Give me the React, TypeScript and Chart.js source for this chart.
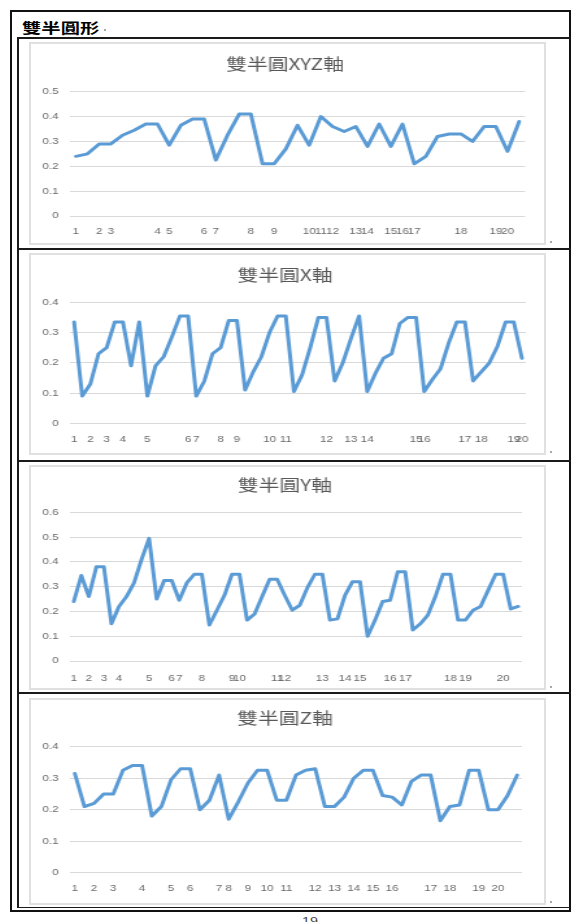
import React, { useEffect, useRef } from 'react';
import { Chart, registerables } from 'chart.js';

Chart.register(...registerables);

// ---- data -------------------------------------------------------------

const xyzLabels = [
  '1', '', '2', '3', '', '', '', '4', '5', '',
  '', '6', '7', '', '', '8', '', '9', '', '',
  '10', '11', '12', '', '13', '14', '', '15', '16', '17',
  '', '', '', '18', '', '', '19', '20', '',
];
const xyzValues = [
  0.24, 0.25, 0.29, 0.29, 0.325, 0.345, 0.37, 0.37, 0.285, 0.365,
  0.39, 0.39, 0.225, 0.325, 0.41, 0.41, 0.21, 0.21, 0.27, 0.365,
  0.285, 0.4, 0.36, 0.34, 0.36, 0.28, 0.37, 0.28, 0.37, 0.21,
  0.24, 0.32, 0.33, 0.33, 0.3, 0.36, 0.36, 0.26, 0.38,
];

const xLabels = [
  '1', '', '2', '', '3', '', '4', '', '', '5',
  '', '', '', '', '6', '7', '', '', '8', '',
  '9', '', '', '', '10', '', '11', '', '', '',
  '', '12', '', '', '13', '', '14', '', '', '',
  '', '', '15', '16', '', '', '', '', '17', '',
  '18', '', '', '', '19', '20',
];
const xValues = [
  0.335, 0.09, 0.13, 0.23, 0.25, 0.335, 0.335, 0.19, 0.335, 0.09,
  0.19, 0.22, 0.285, 0.355, 0.355, 0.09, 0.14, 0.23, 0.25, 0.34,
  0.34, 0.11, 0.17, 0.22, 0.3, 0.355, 0.355, 0.105, 0.16, 0.25,
  0.35, 0.35, 0.14, 0.2, 0.28, 0.355, 0.105, 0.165, 0.215, 0.23,
  0.33, 0.35, 0.35, 0.105, 0.145, 0.18, 0.265, 0.335, 0.335, 0.14,
  0.17, 0.2, 0.255, 0.335, 0.335, 0.215,
];

const yLabels = [
  '1', '', '2', '', '3', '', '4', '', '', '',
  '5', '', '', '6', '7', '', '', '8', '', '',
  '', '9', '10', '', '', '', '', '11', '12', '',
  '', '', '', '13', '', '', '14', '', '15', '',
  '', '', '16', '', '17', '', '', '', '', '',
  '18', '', '19', '', '', '', '', '20', '', '',
];
const yValues = [
  0.24, 0.345, 0.26, 0.38, 0.38, 0.15, 0.22, 0.26, 0.315, 0.41,
  0.495, 0.25, 0.325, 0.325, 0.245, 0.315, 0.35, 0.35, 0.145, 0.205,
  0.265, 0.35, 0.35, 0.165, 0.19, 0.26, 0.33, 0.33, 0.265, 0.205,
  0.225, 0.295, 0.35, 0.35, 0.165, 0.17, 0.265, 0.32, 0.32, 0.1,
  0.165, 0.24, 0.245, 0.36, 0.36, 0.125, 0.15, 0.185, 0.26, 0.35,
  0.35, 0.165, 0.165, 0.205, 0.22, 0.285, 0.35, 0.35, 0.21, 0.22,
];

const zLabels = [
  '1', '', '2', '', '3', '', '', '4', '', '',
  '5', '', '6', '', '', '7', '8', '', '9', '',
  '10', '', '11', '', '', '12', '', '13', '', '14',
  '', '15', '', '16', '', '', '', '17', '', '18',
  '', '', '19', '', '20', '', '',
];
const zValues = [
  0.315, 0.21, 0.22, 0.25, 0.25, 0.325, 0.34, 0.34, 0.18, 0.21,
  0.295, 0.33, 0.33, 0.2, 0.23, 0.31, 0.17, 0.225, 0.285, 0.325,
  0.325, 0.23, 0.23, 0.31, 0.325, 0.33, 0.21, 0.21, 0.24, 0.3,
  0.325, 0.325, 0.245, 0.24, 0.215, 0.29, 0.31, 0.31, 0.165, 0.21,
  0.215, 0.325, 0.325, 0.2, 0.2, 0.245, 0.31,
];

// ---- look -------------------------------------------------------------

const LINE_COLOR = '#5b9bd5';
const GRID_COLOR = '#d9d9d9';
const TEXT_COLOR = '#595959';
const TICK_COLOR = '#6a6a6a';
const TITLE_FONT = '"Noto Sans CJK TC", "Noto Sans", sans-serif';
const TICK_FONT = '"Liberation Sans", Arial, sans-serif';
const TITLE_SIZE = 16;
const TICK_SIZE = 9;

// The document view is wider than tall, so each canvas is drawn narrower
// and widened by CSS.
const BOX_LEFT = 29;
const BOX_WIDTH = 517;
const CANVAS_LEFT = BOX_LEFT + 2;
const CANVAS_W = BOX_WIDTH - 4;
const INNER_W = Math.round(CANVAS_W / 1.3);
const SX = CANVAS_W / INNER_W;
const PLOT_LEFT = 70;
const TITLE_CENTER = 285;
const YLABEL_RIGHT = 58.5;

type Panel = {
  title: string;
  labels: string[];
  values: number[];
  max: number;
  top: number;
  bottom: number;
  plotTop: number;
  plotBottom: number;
  plotRight: number;
  titleY: number;
  tickY: number;
};

const panels: Panel[] = [
  { title: '雙半圓XYZ軸', labels: xyzLabels, values: xyzValues, max: 0.5,
    top: 42, bottom: 245, plotTop: 91.7, plotBottom: 216, plotRight: 525, titleY: 64, tickY: 231.7 },
  { title: '雙半圓X軸', labels: xLabels, values: xValues, max: 0.4,
    top: 253, bottom: 455, plotTop: 302.3, plotBottom: 423.3, plotRight: 526, titleY: 275, tickY: 440 },
  { title: '雙半圓Y軸', labels: yLabels, values: yValues, max: 0.6,
    top: 465, bottom: 690, plotTop: 512.3, plotBottom: 661, plotRight: 522, titleY: 485, tickY: 678.3 },
  { title: '雙半圓Z軸', labels: zLabels, values: zValues, max: 0.4,
    top: 698, bottom: 905, plotTop: 746.7, plotBottom: 872.7, plotRight: 522, titleY: 718.3, tickY: 888.3 },
];

function LinePanel({ p }: { p: Panel }) {
  const ref = useRef<HTMLCanvasElement>(null);
  const h = p.bottom - p.top - 4;

  useEffect(() => {
    const canvas = ref.current;
    if (!canvas) return;
    const cTop = p.top + 2;
    const toX = (px: number) => (px - CANVAS_LEFT) / SX;
    const plotL = toX(PLOT_LEFT);
    const plotR = toX(p.plotRight);
    const padRight = Math.max(0, INNER_W - 2 * toX(TITLE_CENTER));
    const rightAxisW = Math.max(0, INNER_W - plotR - padRight);

    const titleLH = TITLE_SIZE * 1.2;
    const tickLH = TICK_SIZE * 1.2;
    const tc = p.titleY - cTop;
    const pt = p.plotTop - cTop;
    const pb = p.plotBottom - cTop;

    const chart = new Chart(canvas, {
      type: 'line',
      data: {
        labels: p.labels,
        datasets: [
          {
            data: p.values,
            borderColor: LINE_COLOR,
            borderWidth: 3,
            pointRadius: 0,
            pointHoverRadius: 0,
            tension: 0,
            fill: false,
            borderJoinStyle: 'round',
            borderCapStyle: 'round',
          },
        ],
      },
      options: {
        animation: false,
        responsive: false,
        devicePixelRatio: 1,
        events: [],
        layout: { padding: { left: 0, right: padRight, top: 0, bottom: 0 } },
        plugins: {
          legend: { display: false },
          tooltip: { enabled: false },
          title: {
            display: true,
            text: p.title,
            color: TEXT_COLOR,
            font: { family: TITLE_FONT, size: TITLE_SIZE, weight: 'normal', lineHeight: 1.2 },
            padding: { top: tc - titleLH / 2, bottom: pt - tc - titleLH / 2 },
          },
        },
        scales: {
          x: {
            type: 'category',
            offset: true,
            grid: { display: false, drawTicks: false },
            border: { display: false },
            ticks: {
              autoSkip: false,
              maxRotation: 0,
              minRotation: 0,
              padding: p.tickY - p.plotBottom - tickLH / 2,
              color: TICK_COLOR,
              font: { family: TICK_FONT, size: TICK_SIZE, lineHeight: 1.2 },
            },
            afterFit: (s: any) => { s.height = h - pb; },
          },
          y: {
            type: 'linear',
            position: 'left',
            min: 0,
            max: p.max,
            grid: { color: GRID_COLOR, lineWidth: 1, drawTicks: false },
            border: { display: false },
            ticks: {
              stepSize: 0.1,
              padding: plotL - toX(YLABEL_RIGHT),
              color: TICK_COLOR,
              font: { family: TICK_FONT, size: TICK_SIZE, lineHeight: 1.2 },
              callback: (v: any) => (Number(v) === 0 ? '0' : Number(v).toFixed(1)),
            },
            afterFit: (s: any) => { s.width = plotL; },
          },
          yEdge: {
            type: 'linear',
            position: 'right',
            display: true,
            grid: { display: false, drawTicks: false },
            border: { display: false },
            ticks: { display: false },
            afterFit: (s: any) => { s.width = rightAxisW; },
          },
        },
      },
    } as any);

    return () => chart.destroy();
  }, [p, h]);

  return (
    <div
      style={{
        position: 'absolute',
        left: BOX_LEFT,
        top: p.top,
        width: BOX_WIDTH,
        height: p.bottom - p.top,
        border: '2px solid #e0e0e0',
        boxSizing: 'border-box',
        background: '#fff',
      }}
    >
      <canvas
        ref={ref}
        width={INNER_W}
        height={h}
        style={{ position: 'absolute', left: 0, top: 0, width: CANVAS_W, height: h }}
      />
    </div>
  );
}

const hLine = (top: number, height: number, left = 17, right = 571) => (
  <div
    key={`h${top}`}
    style={{ position: 'absolute', left, top, width: right - left, height, background: '#1a1a1a' }}
  />
);

const dot = (left: number, top: number) => (
  <div
    key={`d${left}-${top}`}
    style={{ position: 'absolute', left, top, width: 2, height: 2, background: '#a8a8a8' }}
  />
);

export default function App() {
  return (
    <div
      style={{
        position: 'absolute',
        left: 0,
        top: 0,
        width: 573,
        height: 922,
        overflow: 'hidden',
        background: '#fff',
      }}
    >
      {/* page frame */}
      <div
        style={{
          position: 'absolute',
          left: 10,
          top: 10,
          width: 561,
          height: 902,
          border: '2px solid #111',
          boxSizing: 'border-box',
        }}
      />
      {/* heading */}
      <div
        style={{
          position: 'absolute',
          left: 22,
          top: 20,
          fontFamily: TITLE_FONT,
          fontSize: 14,
          fontWeight: 'bold',
          lineHeight: '15px',
          color: '#000',
          transform: 'scaleX(1.38)',
          transformOrigin: 'left top',
          whiteSpace: 'nowrap',
        }}
      >
        雙半圓形
      </div>
      {dot(104, 29)}
      {/* table rules */}
      {hLine(37, 2)}
      <div style={{ position: 'absolute', left: 17, top: 37, width: 2, height: 871, background: '#1a1a1a' }} />
      {hLine(248, 2)}
      {hLine(460, 2)}
      {hLine(692, 2)}
      {hLine(907, 1)}
      {panels.map((p) => (
        <LinePanel key={p.title} p={p} />
      ))}
      {panels.map((p) => dot(550, p.bottom - 4))}
      {/* page number */}
      <div
        style={{
          position: 'absolute',
          left: 302,
          top: 915,
          fontFamily: TICK_FONT,
          fontSize: 11,
          lineHeight: '12px',
          color: '#444',
          transform: 'scaleX(1.3)',
          transformOrigin: 'left top',
        }}
      >
        19
      </div>
    </div>
  );
}
